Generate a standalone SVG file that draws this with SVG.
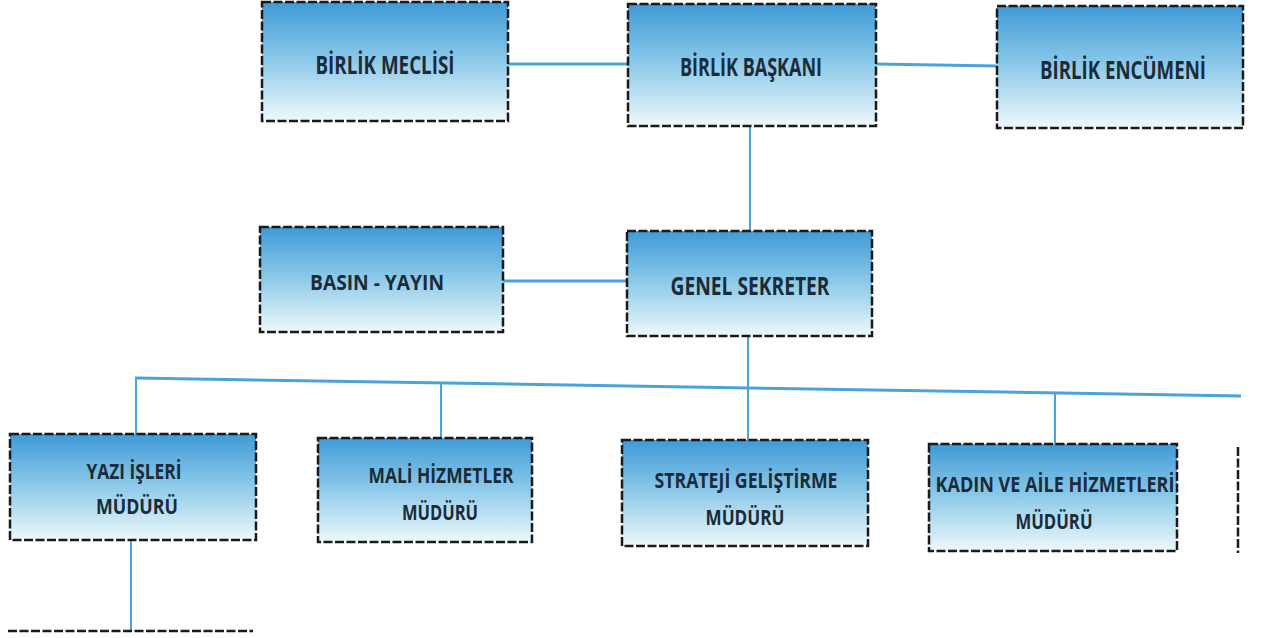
<svg xmlns="http://www.w3.org/2000/svg" width="1264" height="638" viewBox="0 0 1264 638">
<defs>
<linearGradient id="g" x1="0" y1="0" x2="0" y2="1">
<stop offset="0" stop-color="#3f9ad6"/>
<stop offset="0.45" stop-color="#86c6e8"/>
<stop offset="1" stop-color="#eef9fb"/>
</linearGradient>
<style>
.box{fill:url(#g);stroke:#1a1a1a;stroke-width:2.5;stroke-dasharray:9 2.5}
.dash{fill:none;stroke:#1a1a1a;stroke-width:2.5;stroke-dasharray:9 2.5}
.t{font-family:"Open Sans","Noto Sans",sans-serif;font-weight:bold;fill:#1b2b38;text-anchor:middle}
.big{font-size:25px}
.sm{font-size:21px}
.c{stroke:#4ca3da;fill:none}
.h{stroke-width:3}
.v{stroke-width:2}
</style>
</defs>
<rect width="1264" height="638" fill="#ffffff"/>
<g id="connectors">
<line class="c h" x1="508" y1="64" x2="628" y2="64"/>
<line class="c h" x1="876" y1="64" x2="997" y2="66"/>
<line class="c v" x1="750" y1="126" x2="750" y2="231"/>
<line class="c h" x1="503" y1="281" x2="627" y2="281"/>
<line class="c v" x1="748" y1="336" x2="748" y2="388"/>
<line class="c h" x1="135" y1="378" x2="1241" y2="396"/>
<line class="c v" x1="136" y1="378" x2="136" y2="434"/>
<line class="c v" x1="441" y1="383" x2="441" y2="438"/>
<line class="c v" x1="748" y1="388" x2="748" y2="440"/>
<line class="c v" x1="1055" y1="393" x2="1055" y2="444"/>
<line class="c v" x1="131" y1="540" x2="131" y2="631"/>
</g>
<g id="birlik-meclisi">
<rect class="box" x="262" y="2" width="246" height="119"/>
<text class="t big" x="385" y="74" textLength="139" lengthAdjust="spacingAndGlyphs">BİRLİK MECLİSİ</text>
</g>
<g id="birlik-baskani">
<rect class="box" x="628" y="4" width="248" height="122"/>
<text class="t big" x="751" y="76" textLength="142" lengthAdjust="spacingAndGlyphs">BİRLİK BAŞKANI</text>
</g>
<g id="birlik-encumeni">
<rect class="box" x="997" y="6" width="246" height="122"/>
<text class="t big" x="1123" y="79" textLength="166" lengthAdjust="spacingAndGlyphs">BİRLİK ENCÜMENİ</text>
</g>
<g id="basin-yayin">
<rect class="box" x="260" y="227" width="243" height="105"/>
<text class="t sm" x="377" y="290" textLength="134" lengthAdjust="spacingAndGlyphs">BASIN - YAYIN</text>
</g>
<g id="genel-sekreter">
<rect class="box" x="627" y="231" width="245" height="105"/>
<text class="t big" x="750" y="295" textLength="159" lengthAdjust="spacingAndGlyphs">GENEL SEKRETER</text>
</g>
<g id="yazi-isleri">
<rect class="box" x="10" y="434" width="246" height="106"/>
<text class="t sm" x="134" y="479" textLength="95" lengthAdjust="spacingAndGlyphs">YAZI İŞLERİ</text>
<text class="t sm" x="137" y="514" textLength="82" lengthAdjust="spacingAndGlyphs">MÜDÜRÜ</text>
</g>
<g id="mali-hizmetler">
<rect class="box" x="318" y="438" width="214" height="104"/>
<text class="t sm" x="441" y="483" textLength="145" lengthAdjust="spacingAndGlyphs">MALİ HİZMETLER</text>
<text class="t sm" x="440" y="520" textLength="76" lengthAdjust="spacingAndGlyphs">MÜDÜRÜ</text>
</g>
<g id="strateji-gelistirme">
<rect class="box" x="622" y="440" width="246" height="106"/>
<text class="t sm" x="746" y="488" textLength="183" lengthAdjust="spacingAndGlyphs">STRATEJİ GELİŞTİRME</text>
<text class="t sm" x="745" y="525" textLength="79" lengthAdjust="spacingAndGlyphs">MÜDÜRÜ</text>
</g>
<g id="kadin-aile">
<rect class="box" x="929" y="444" width="248" height="107"/>
<text class="t sm" x="1055" y="492" textLength="239" lengthAdjust="spacingAndGlyphs">KADIN VE AİLE HİZMETLERİ</text>
<text class="t sm" x="1054" y="529" textLength="77" lengthAdjust="spacingAndGlyphs">MÜDÜRÜ</text>
</g>
<g id="partial-right">
<line class="dash" x1="1238" y1="447" x2="1238" y2="553"/>
</g>
<g id="partial-bottom">
<line class="dash" x1="8" y1="631" x2="253" y2="631"/>
</g>
</svg>
